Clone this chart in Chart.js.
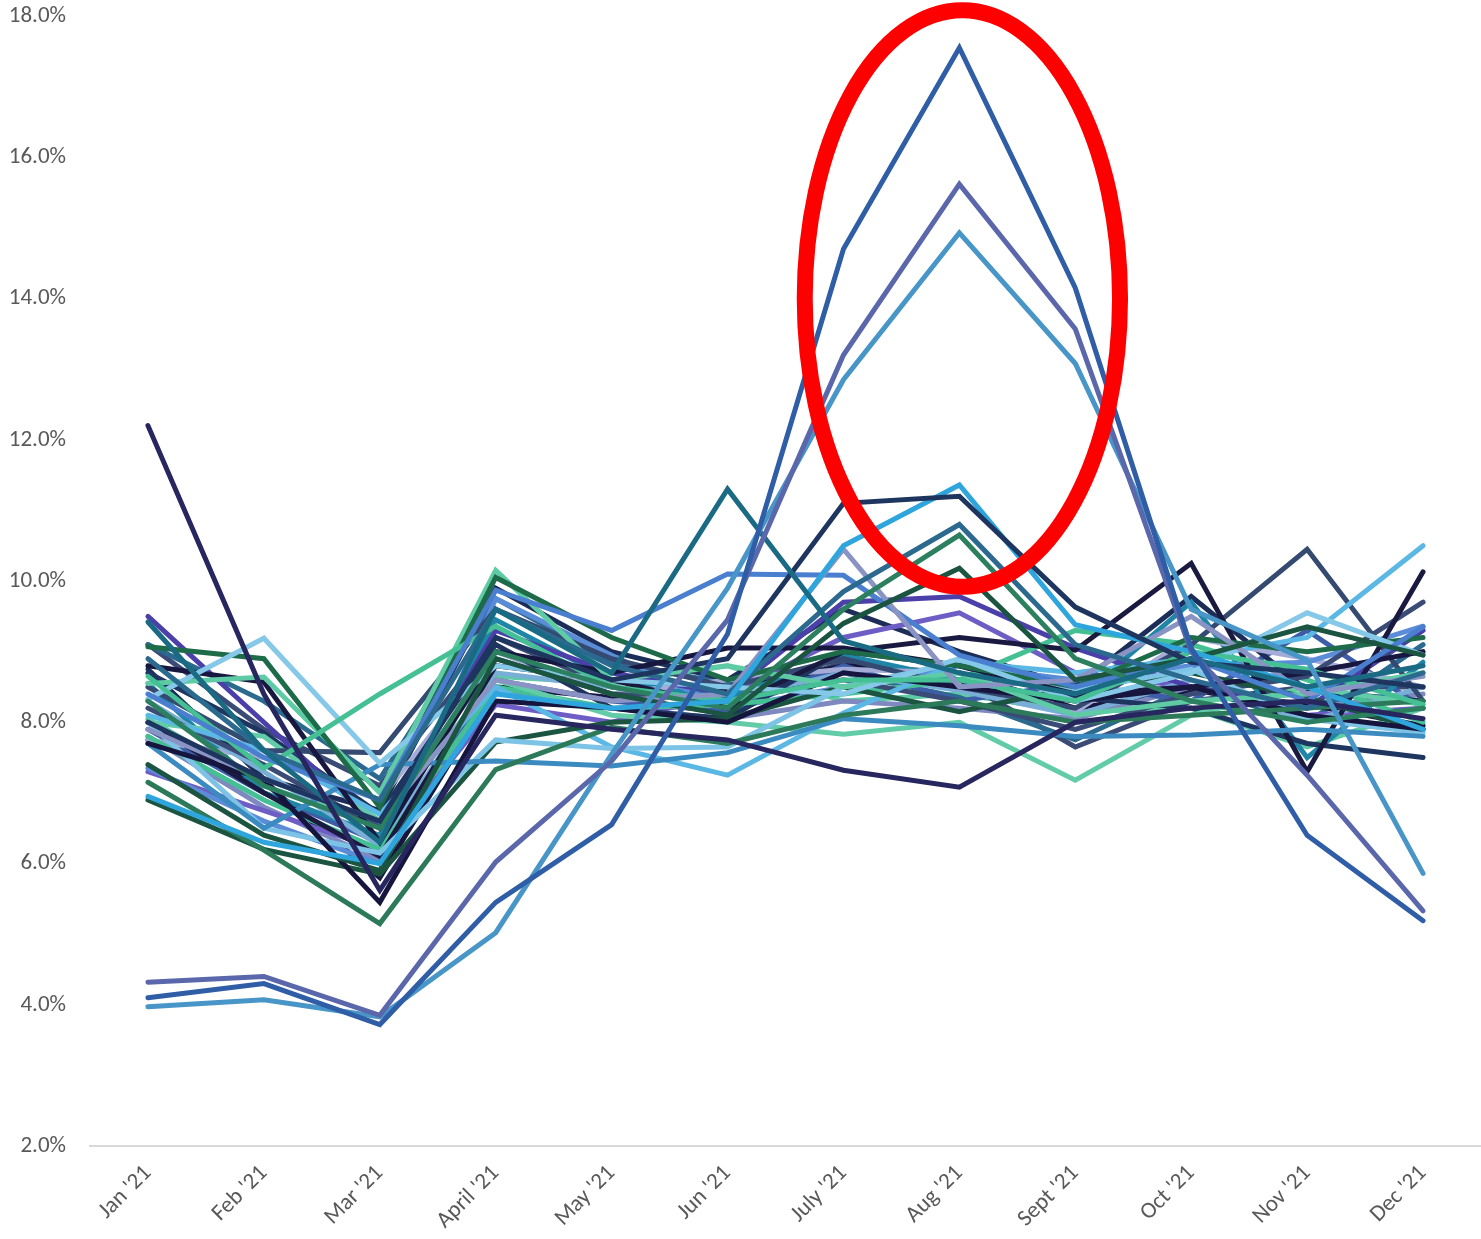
<!DOCTYPE html>
<html>
<head>
<meta charset="utf-8">
<script src="https://cdn.jsdelivr.net/npm/chart.js@4.4.1/dist/chart.umd.min.js"></script>
<style>
  html, body { margin: 0; padding: 0; background: #fff; }
  #wrap { width: 1481px; height: 1239px; }
</style>
</head>
<body>
<div id="wrap"><canvas id="rates"></canvas></div>
<script>
// Data definitions
const months = ["Jan '21", "Feb '21", "Mar '21", "April '21", "May '21", "Jun '21", "July '21", "Aug '21", "Sept '21", "Oct '21", "Nov '21", "Dec '21"];

// the three lines that spike in summer
const peakA = [4.10, 4.30, 3.72, 5.45, 6.55, 9.25, 14.70, 17.55, 14.15, 9.05, 6.40, 5.19];
const peakB = [4.32, 4.40, 3.85, 6.02, 7.45, 9.45, 13.20, 15.62, 13.57, 9.00, 7.25, 5.33];
const peakC = [3.97, 4.07, 3.83, 5.02, 7.55, 9.90, 12.85, 14.93, 13.08, 9.60, 8.88, 5.86];

// other lines that stand out
const janHigh = [12.20, 8.40, 5.62, 8.10, 7.90, 7.75, 7.32, 7.08, 8.00, 8.20, 8.30, 8.05];
const junHigh = [9.42, 7.60, 6.30, 9.60, 8.70, 11.30, 9.15, 8.70, 8.40, 8.90, 8.50, 8.80];
const augNavy = [8.00, 7.20, 6.60, 9.20, 8.60, 8.90, 11.10, 11.20, 9.63, 8.85, 8.70, 8.50];
const augSky = [6.95, 6.30, 6.00, 8.40, 8.20, 8.30, 10.50, 11.36, 9.38, 9.00, 8.50, 7.90];
const augSteel = [8.90, 7.60, 6.90, 9.60, 8.80, 8.40, 9.85, 10.80, 9.10, 8.60, 8.20, 8.70];
const augGreen = [8.30, 7.10, 6.50, 9.00, 8.50, 8.20, 9.60, 10.65, 8.90, 8.30, 8.00, 8.20];
const augPine = [7.40, 6.40, 5.90, 8.90, 8.40, 8.10, 9.40, 10.18, 8.60, 8.90, 9.35, 8.95];
const julLav = [7.90, 7.20, 6.60, 8.60, 8.30, 8.40, 10.45, 8.50, 8.60, 9.50, 8.40, 8.65];
const junBlue = [8.40, 7.50, 6.90, 9.87, 9.30, 10.10, 10.08, 8.95, 8.50, 8.90, 8.30, 9.35];
const marMint = [8.65, 7.35, 8.40, 9.36, 8.50, 8.30, 8.60, 8.60, 8.30, 9.00, 8.75, 8.25];
const febSky = [8.33, 9.19, 7.42, 8.80, 8.60, 8.50, 8.40, 8.90, 8.30, 8.70, 9.55, 8.95];
const janPine = [9.07, 8.90, 6.80, 10.05, 9.20, 8.60, 9.00, 8.80, 8.50, 9.20, 9.00, 9.20];
const janMint = [8.55, 8.64, 7.00, 10.15, 8.60, 8.80, 8.50, 8.70, 8.10, 8.30, 8.40, 8.70];
const febNavy = [8.80, 8.57, 6.30, 9.00, 8.70, 9.05, 9.05, 8.80, 8.40, 8.50, 8.70, 9.00];
const marLow = [7.15, 6.19, 5.15, 7.33, 7.93, 7.70, 8.10, 8.30, 8.00, 8.10, 8.20, 8.30];
const marNavy = [7.70, 7.20, 5.45, 8.30, 8.20, 8.00, 8.70, 8.50, 8.30, 8.50, 8.10, 7.90];
const aprFlat = [7.70, 6.50, 7.40, 7.45, 7.38, 7.57, 8.05, 7.95, 7.80, 7.82, 7.90, 7.80];
const aprSky = [8.00, 6.50, 6.15, 7.75, 7.63, 7.65, 8.50, 8.85, 8.45, 8.75, 8.05, 7.85];
const aprPine = [6.90, 6.20, 5.85, 7.72, 8.00, 8.05, 8.50, 8.15, 8.50, 8.70, 8.35, 7.90];
const junDip = [8.10, 7.60, 6.70, 8.50, 7.65, 7.25, 8.13, 8.85, 8.70, 8.90, 9.20, 10.50];
const octNavy = [8.00, 7.00, 6.10, 8.80, 8.60, 8.20, 9.00, 9.20, 9.02, 10.25, 7.30, 10.13];
const novSlate = [8.50, 7.60, 7.57, 9.60, 8.90, 8.50, 8.90, 8.50, 8.20, 9.10, 10.45, 8.30];
const decSlate = [8.20, 7.40, 6.50, 8.90, 8.40, 8.30, 8.60, 8.30, 7.90, 8.40, 8.65, 9.70];
const sepMintLow = [8.00, 7.80, 6.60, 8.60, 8.10, 8.00, 7.83, 8.00, 7.18, 8.10, 8.50, 8.25];
const sepMintHigh = [7.80, 6.90, 6.20, 8.50, 8.20, 8.25, 8.40, 8.60, 9.30, 9.10, 8.60, 8.00];

// the main bundle
const bundle01 = [9.50, 8.00, 6.50, 9.30, 8.70, 8.40, 9.70, 9.78, 9.05, 8.50, 8.20, 9.30];
const bundle02 = [8.70, 7.85, 6.70, 9.10, 8.20, 8.05, 9.00, 8.80, 8.35, 8.20, 7.70, 7.50];
const bundle03 = [8.30, 7.30, 6.25, 8.70, 8.50, 8.30, 8.70, 8.45, 8.10, 8.60, 8.00, 8.50];
const bundle04 = [7.35, 6.60, 6.00, 9.75, 8.95, 8.20, 8.50, 8.80, 8.60, 8.80, 8.85, 9.36];
const bundle05 = [7.75, 7.50, 6.90, 9.00, 8.40, 8.60, 8.75, 8.70, 8.15, 9.20, 8.90, 8.50];
const bundle06 = [8.55, 7.00, 6.40, 9.45, 8.60, 8.35, 8.95, 8.60, 8.30, 9.70, 7.50, 8.85];
const bundle07 = [7.30, 6.75, 6.20, 8.25, 8.00, 8.40, 9.20, 9.55, 8.70, 8.50, 8.10, 8.20];
const bundle08 = [8.75, 7.20, 6.75, 9.90, 9.00, 8.60, 9.60, 9.00, 8.50, 9.78, 8.45, 8.30];
const bundle09 = [7.90, 7.00, 6.30, 8.60, 8.30, 8.15, 8.80, 8.30, 8.55, 8.30, 9.30, 8.20];
const bundle10 = [7.80, 6.80, 6.05, 8.45, 8.20, 8.05, 8.30, 8.20, 8.05, 8.50, 8.20, 8.40];
const bundle11 = [7.75, 7.15, 5.80, 8.50, 8.35, 8.45, 8.80, 8.70, 8.20, 8.45, 8.25, 7.95];
const bundle12 = [9.10, 8.30, 7.20, 9.75, 8.85, 8.55, 8.70, 8.35, 7.75, 8.50, 8.00, 9.10];
const bundle13 = [9.10, 7.90, 7.10, 9.20, 8.50, 8.30, 8.85, 8.60, 7.65, 8.30, 8.50, 8.50];
const bundle14 = [8.05, 7.10, 6.55, 8.65, 8.55, 8.80, 8.30, 8.40, 8.15, 8.20, 7.65, 8.20];

// series in draw order: first one ends up on top
const seriesList = [
  [peakA, '#2F5DA6'], [peakB, '#5B67AB'], [peakC, '#4895C8'],
  [janHigh, '#27265F'], [junHigh, '#1B6A84'], [augNavy, '#1E3560'], [augSky, '#2EA5DC'],
  [augSteel, '#2B6A8E'], [augGreen, '#2C8060'], [augPine, '#1B5440'], [julLav, '#8A94C4'],
  [junBlue, '#4A7FD0'], [marMint, '#45C095'], [febSky, '#86C8E8'], [janPine, '#1E6B4A'],
  [janMint, '#5ECBA5'], [febNavy, '#17173F'], [marLow, '#2C7A5A'], [marNavy, '#15153D'],
  [aprFlat, '#3B8BC0'], [aprSky, '#7CC3E6'], [aprPine, '#1B5440'], [junDip, '#5BB8E5'],
  [octNavy, '#1A1A40'], [novSlate, '#354A70'], [decSlate, '#3A4B75'], [sepMintLow, '#62CCA8'],
  [sepMintHigh, '#45C095'],
  [bundle01, '#4B3FAA'], [bundle02, '#1E3560'], [bundle03, '#79AED6'], [bundle04, '#5A8CD8'],
  [bundle05, '#A3ABD6'], [bundle06, '#1F86A8'], [bundle07, '#6D5DC4'], [bundle08, '#1C2E58'],
  [bundle09, '#3E5DA8'], [bundle10, '#7E89C0'], [bundle11, '#17173F'], [bundle12, '#2B6A8E'],
  [bundle13, '#3A4B75'], [bundle14, '#5ECBA5']
];

const labelFont = { family: 'Carlito, Lato, "Liberation Sans", sans-serif', size: 23 };

// red ring around the summer spike, placed through the scales
const ringPlugin = {
  id: 'ring',
  afterDatasetsDraw(chart) {
    const { ctx, scales: { x, y } } = chart;
    const step = x.getPixelForValue(1) - x.getPixelForValue(0);
    const cx = x.getPixelForValue(7) + 3;
    const cy = y.getPixelForValue(14);
    const rx = step * 1.36;
    const ry = y.getPixelForValue(14 - 4.08) - cy;
    ctx.save();
    ctx.beginPath();
    ctx.ellipse(cx, cy, rx, ry, 0, 0, Math.PI * 2);
    ctx.lineWidth = 16;
    ctx.strokeStyle = '#FF0000';
    ctx.stroke();
    ctx.restore();
  }
};

const chart = new Chart(document.getElementById('rates').getContext('2d'), {
  type: 'line',
  data: {
    labels: months,
    datasets: seriesList.map(([values, color], i) => ({
      label: 'series ' + (i + 1),
      data: values,
      borderColor: color,
      backgroundColor: color,
      borderWidth: 5,
      borderCapStyle: 'round',
      borderJoinStyle: 'miter',
      pointRadius: 0,
      tension: 0,
      fill: false
    }))
  },
  options: {
    responsive: true,
    maintainAspectRatio: false,
    animation: false,
    layout: { padding: 0 },
    plugins: {
      legend: { display: false },
      tooltip: { enabled: false }
    },
    scales: {
      x: {
        offset: true,
        grid: { display: false, drawTicks: false },
        border: { display: true, color: '#D9D9D9', width: 2 },
        ticks: {
          color: '#595959',
          font: labelFont,
          minRotation: 45,
          maxRotation: 45,
          padding: 14,
          autoSkip: false
        },
        afterFit(scale) { scale.height = 93; }
      },
      y: {
        min: 2,
        max: 18,
        grid: { display: false, drawTicks: false },
        border: { display: false },
        ticks: {
          stepSize: 2,
          color: '#595959',
          font: labelFont,
          padding: 24,
          callback: v => v.toFixed(1) + '%'
        },
        afterFit(scale) {
          scale.width = 90;
          scale.paddingTop = 16;
          scale.paddingBottom = 0;
        }
      }
    }
  },
  plugins: [ringPlugin]
});
</script>
</body>
</html>
